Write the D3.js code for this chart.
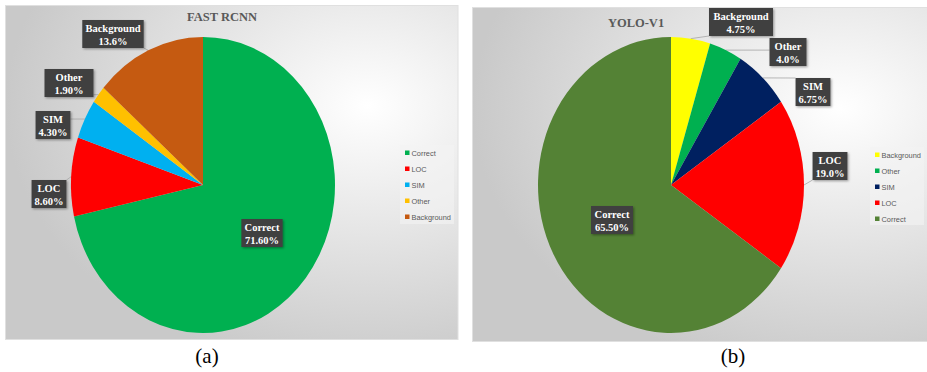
<!DOCTYPE html>
<html>
<head>
<meta charset="utf-8">
<script src="https://cdn.jsdelivr.net/npm/d3@7"></script>
<style>
  body { margin: 0; background: #fff; }
  svg { display: block; }
</style>
</head>
<body>
<div id="chart"></div>
<script>
// Data
var rcnnCats = ["Correct", "LOC", "SIM", "Other", "Background"];
var rcnnVals = [71.6, 8.6, 4.3, 1.9, 13.6];
var rcnnText = ["71.60%", "8.60%", "4.30%", "1.90%", "13.6%"];

var yoloCats = ["Background", "Other", "SIM", "LOC", "Correct"];
var yoloVals = [4.75, 4.0, 6.75, 19.0, 65.5];
var yoloText = ["4.75%", "4.0%", "6.75%", "19.0%", "65.50%"];

// Styles / layout
var rcnnColors = ["#00b050", "#ff0000", "#00b0f0", "#ffc000", "#c55a11"];
var yoloColors = ["#ffff00", "#00b050", "#002060", "#ff0000", "#548235"];

var width = 927, height = 372;

var svg = d3.select("#chart").append("svg")
    .attr("width", width)
    .attr("height", height);

var defs = svg.append("defs");

var grad = defs.append("radialGradient")
    .attr("id", "panelGrad")
    .attr("cx", "0.8").attr("cy", "0.3").attr("r", "0.8");
grad.append("stop").attr("offset", "0").attr("stop-color", "#ffffff");
grad.append("stop").attr("offset", "0.35").attr("stop-color", "#ececec");
grad.append("stop").attr("offset", "1").attr("stop-color", "#c9c9c9");

var shadow = defs.append("filter").attr("id", "shadow")
    .attr("x", "-20%").attr("y", "-20%").attr("width", "150%").attr("height", "150%");
shadow.append("feDropShadow")
    .attr("dx", 1.2).attr("dy", 1.2).attr("stdDeviation", 0.8)
    .attr("flood-color", "#000").attr("flood-opacity", 0.35);

function drawPanel(opt) {
    var g = svg.append("g");

    // panel background
    g.append("rect")
        .attr("x", opt.box[0]).attr("y", opt.box[1])
        .attr("width", opt.box[2]).attr("height", opt.box[3])
        .attr("fill", "url(#panelGrad)")
        .attr("stroke", "#e0e0e0")
        .attr("stroke-width", 1);

    // title
    g.append("text")
        .attr("x", opt.title[1]).attr("y", opt.title[2])
        .attr("text-anchor", "middle")
        .style("font-family", "'Liberation Serif', 'Times New Roman', serif")
        .style("font-weight", "bold")
        .style("font-size", "12.5px")
        .attr("fill", "#595959")
        .text(opt.title[0]);

    var data = opt.cats.map(function (c, i) {
        return { cat: c, v: opt.vals[i], label: opt.text[i], color: opt.colors[i], i: i };
    });

    var pie = d3.pie().sort(null).value(function (d) { return d.v; });
    var arcs = pie(data);
    var arc = d3.arc().innerRadius(0).outerRadius(opt.ry);

    // pie stretched into an ellipse, like the source image
    g.append("g")
        .attr("transform", "translate(" + opt.cx + "," + opt.cy + ") scale(" + (opt.rx / opt.ry) + ",1)")
        .selectAll("path")
        .data(arcs)
        .enter().append("path")
        .attr("d", arc)
        .attr("fill", function (d) { return d.data.color; });

    function edgePoint(d) {
        var a = (d.startAngle + d.endAngle) / 2;
        return [opt.cx + opt.rx * Math.sin(a), opt.cy - opt.ry * Math.cos(a)];
    }

    // data labels
    arcs.forEach(function (d, i) {
        var off = opt.labelOff[i];
        var lx = opt.cx + off[0], ly = opt.cy + off[1];
        var lg = g.append("g");
        var t = lg.append("text")
            .attr("text-anchor", "middle")
            .style("font-family", "'Liberation Serif', 'Times New Roman', serif")
            .style("font-weight", "bold")
            .style("font-size", "10.5px")
            .attr("fill", "#ffffff");
        t.append("tspan").attr("x", lx).attr("y", ly - 2.5).text(d.data.cat);
        t.append("tspan").attr("x", lx).attr("y", ly + 10.5).text(d.data.label);
        var bb = t.node().getBBox();
        var bw = Math.max(bb.width + 6, off[2] || 0);
        var bx = lx - bw / 2, by = ly - 14, bh = 28;
        lg.insert("rect", "text")
            .attr("x", bx).attr("y", by)
            .attr("width", bw).attr("height", bh)
            .attr("fill", "#404040")
            .attr("filter", "url(#shadow)");

        if (!off[3]) {
            // leader line from slice edge to nearest point of the box
            var p = edgePoint(d);
            var qx = Math.max(bx, Math.min(bx + bw, p[0]));
            var qy = Math.max(by, Math.min(by + bh, p[1]));
            g.insert("line", "g")
                .attr("x1", p[0]).attr("y1", p[1])
                .attr("x2", qx).attr("y2", qy)
                .attr("stroke", "#a6a6a6")
                .attr("stroke-width", 0.8);
        }
    });

    // legend
    var lgd = g.append("g");
    lgd.append("rect")
        .attr("x", opt.legend[0]).attr("y", opt.legend[1])
        .attr("width", opt.legend[2]).attr("height", opt.legend[3])
        .attr("fill", "#f4f4f4")
        .attr("opacity", 0.6);
    var item = lgd.selectAll("g.item")
        .data(data)
        .enter().append("g")
        .attr("transform", function (d, i) {
            return "translate(" + (opt.legend[0] + 5) + "," + (opt.legend[1] + 8 + i * 16) + ")";
        });
    item.append("rect")
        .attr("x", 0).attr("y", -2.5)
        .attr("width", 4.5).attr("height", 4.5)
        .attr("fill", function (d) { return d.color; });
    item.append("text")
        .attr("x", 6.5).attr("y", 2.6)
        .style("font-family", "'Liberation Sans', Arial, sans-serif")
        .style("font-size", "7.4px")
        .attr("fill", "#595959")
        .text(function (d) { return d.cat; });

    // caption
    svg.append("text")
        .attr("x", opt.caption[1]).attr("y", opt.caption[2])
        .attr("text-anchor", "middle")
        .style("font-family", "'Liberation Serif', 'Times New Roman', serif")
        .style("font-size", "21px")
        .attr("fill", "#000")
        .text(opt.caption[0]);
}

drawPanel({
    box: [5.5, 5.5, 452.5, 334],
    title: ["FAST RCNN", 222, 21],
    cats: rcnnCats, vals: rcnnVals, text: rcnnText, colors: rcnnColors,
    cx: 203, cy: 185, rx: 132, ry: 148,
    // [dx, dy, min box width, inside?]
    labelOff: [[59, 48, 0, true], [-154, 9], [-150, -60], [-134, -102, 49], [-90, -151]],
    legend: [400, 145, 54, 79],
    caption: ["(a)", 207, 363]
});

drawPanel({
    box: [472.5, 7.5, 460, 334],
    title: ["YOLO-V1", 636, 27],
    cats: yoloCats, vals: yoloVals, text: yoloText, colors: yoloColors,
    cx: 671, cy: 185, rx: 133, ry: 148,
    labelOff: [[70, -163, 64], [117, -133, 37], [142, -93], [159, -19], [-59, 35, 42, true]],
    legend: [870, 147, 54, 78],
    caption: ["(b)", 733, 363]
});
</script>
</body>
</html>
